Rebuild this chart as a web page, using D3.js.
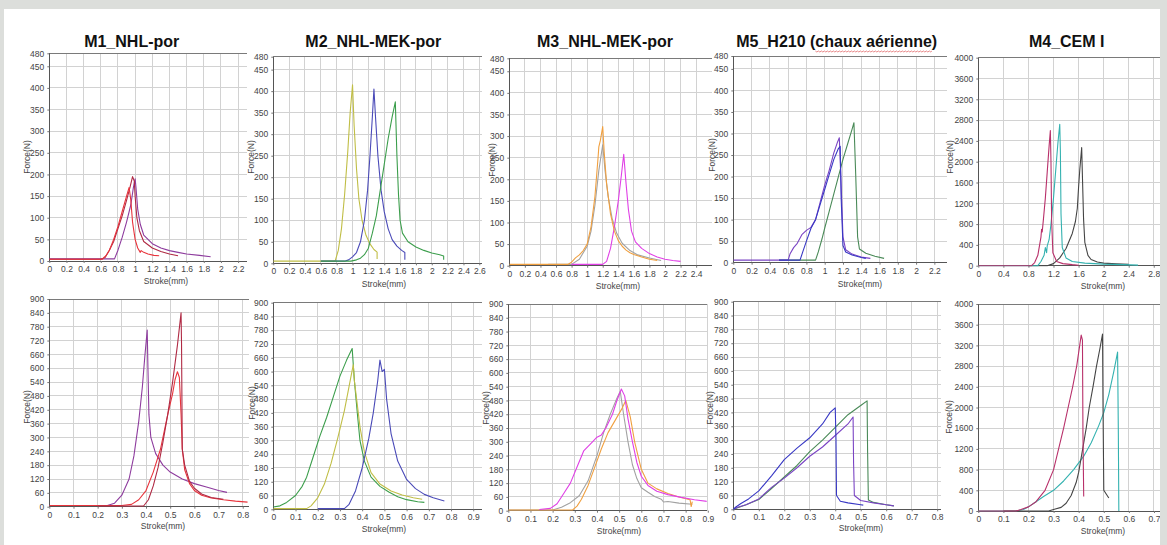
<!DOCTYPE html>
<html><head><meta charset="utf-8">
<script src="https://cdn.jsdelivr.net/npm/d3@7"></script>
<style>
html,body{margin:0;padding:0;background:#dcdedb;}
svg{display:block;font-family:"Liberation Sans",Arial,sans-serif;}
</style>
</head><body>
<svg id="chart" width="1167" height="545"></svg>
<script>
// ---------- DATA (stroke mm, force N) ----------
const titles = ["M1_NHL-por", "M2_NHL-MEK-por", "M3_NHL-MEK-por", "M5_H210 (chaux aérienne)", "M4_CEM I"];

const yTicksLimeTop = [0, 50, 100, 150, 200, 250, 300, 350, 400, 450, 480];
const yTicksCement = [0, 400, 800, 1200, 1600, 2000, 2400, 2800, 3200, 3600, 4000];
const yTicksLimeBottom = [0, 60, 120, 180, 240, 300, 360, 420, 480, 540, 600, 660, 720, 780, 840, 900];

const xTicksM1Top = [0, 0.2, 0.4, 0.6, 0.8, 1, 1.2, 1.4, 1.6, 1.8, 2, 2.2];
const xTicksM2Top = [0, 0.2, 0.4, 0.6, 0.8, 1, 1.2, 1.4, 1.6, 1.8, 2, 2.2, 2.4, 2.6];
const xTicksM3Top = [0, 0.2, 0.4, 0.6, 0.8, 1, 1.2, 1.4, 1.6, 1.8, 2, 2.2, 2.4];
const xTicksM5Top = [0, 0.2, 0.4, 0.6, 0.8, 1, 1.2, 1.4, 1.6, 1.8, 2, 2.2];
const xTicksM4Top = [0, 0.4, 0.8, 1.2, 1.6, 2, 2.4, 2.8];
const xTicksM1Bot = [0, 0.1, 0.2, 0.3, 0.4, 0.5, 0.6, 0.7, 0.8];
const xTicksM2Bot = [0, 0.1, 0.2, 0.3, 0.4, 0.5, 0.6, 0.7, 0.8, 0.9];
const xTicksM3Bot = [0, 0.1, 0.2, 0.3, 0.4, 0.5, 0.6, 0.7, 0.8, 0.9];
const xTicksM5Bot = [0, 0.1, 0.2, 0.3, 0.4, 0.5, 0.6, 0.7, 0.8];
const xTicksM4Bot = [0, 0.1, 0.2, 0.3, 0.4, 0.5, 0.6, 0.7];

// M1 top
const m1TopRed = [[0,4],[0.3,4],[0.62,4],[0.64,9],[0.66,12],[0.7,25],[0.75,50],[0.8,80],[0.85,115],[0.9,150],[0.93,170],[0.95,140],[0.97,90],[1.0,50],[1.03,30],[1.06,20],[1.07,24],[1.1,20],[1.15,16],[1.22,13],[1.28,12]];
const m1TopDark = [[0,4],[0.6,4],[0.65,8],[0.7,25],[0.75,45],[0.8,75],[0.85,105],[0.9,140],[0.94,170],[0.97,195],[0.99,185],[1.0,150],[1.02,100],[1.05,70],[1.1,45],[1.2,30],[1.3,22],[1.4,16],[1.5,12]];
const m1TopPurple = [[0,5],[0.5,5],[0.76,5],[0.8,25],[0.85,55],[0.9,90],[0.95,130],[0.98,170],[1.0,190],[1.01,170],[1.03,120],[1.06,85],[1.1,60],[1.2,40],[1.3,30],[1.4,24],[1.5,20],[1.6,16],[1.75,13],[1.88,10]];
// M2 top
const m2TopYellow = [[0,5],[0.5,5],[0.78,5],[0.82,30],[0.86,80],[0.9,160],[0.94,260],[0.97,350],[1.0,415],[1.02,320],[1.05,220],[1.08,150],[1.12,100],[1.17,65],[1.22,45],[1.27,32],[1.31,26],[1.31,10]];
const m2TopBlue = [[0.6,5],[0.9,5],[0.95,8],[1.0,15],[1.05,25],[1.1,50],[1.15,100],[1.19,170],[1.22,250],[1.25,340],[1.27,405],[1.29,340],[1.32,250],[1.36,170],[1.4,120],[1.45,80],[1.5,55],[1.56,40],[1.62,30],[1.66,25],[1.66,8]];
const m2TopGreen = [[0.6,5],[0.98,5],[1.05,8],[1.1,12],[1.15,20],[1.2,35],[1.25,70],[1.3,110],[1.35,170],[1.4,230],[1.45,290],[1.5,340],[1.54,375],[1.56,250],[1.58,160],[1.6,100],[1.63,70],[1.7,50],[1.8,38],[1.9,30],[2.0,24],[2.1,20],[2.15,17],[2.15,8]];
// M3 top
const m3TopOrange = [[0,3],[0.75,3],[0.8,8],[0.85,18],[0.9,25],[0.95,35],[1.0,50],[1.05,90],[1.1,160],[1.14,250],[1.15,275],[1.17,290],[1.2,322],[1.22,260],[1.25,190],[1.3,120],[1.35,80],[1.4,58],[1.45,45],[1.5,36],[1.55,30],[1.6,26],[1.7,20],[1.8,15],[1.9,12]];
const m3TopGray = [[0.5,3],[0.8,3],[0.9,15],[1.0,45],[1.05,80],[1.1,140],[1.15,220],[1.2,280],[1.23,220],[1.27,160],[1.32,110],[1.38,75],[1.45,52],[1.55,35],[1.65,25],[1.8,18],[1.95,12]];
const m3TopMagenta = [[0.8,3],[1.2,3],[1.25,10],[1.3,40],[1.35,90],[1.4,150],[1.44,210],[1.47,258],[1.5,190],[1.53,130],[1.57,80],[1.62,55],[1.7,40],[1.8,28],[1.9,20],[2.0,15],[2.1,12],[2.2,10]];
// M5 top
const m5TopPurple = [[0,6],[0.6,6],[0.62,20],[0.66,35],[0.7,45],[0.75,65],[0.8,75],[0.85,82],[0.9,100],[0.95,140],[1.0,180],[1.05,215],[1.1,255],[1.14,280],[1.16,290],[1.18,180],[1.2,60],[1.23,30],[1.3,20],[1.4,13],[1.5,10]];
const m5TopBlue = [[0.5,6],[0.73,6],[0.76,25],[0.8,50],[0.85,80],[0.9,100],[0.95,135],[1.0,170],[1.05,205],[1.1,240],[1.15,265],[1.17,270],[1.18,150],[1.2,40],[1.23,25],[1.3,18],[1.4,12],[1.45,10]];
const m5TopGreen = [[0.5,6],[0.9,6],[0.93,25],[0.97,55],[1.0,80],[1.05,120],[1.1,160],[1.15,200],[1.2,240],[1.25,275],[1.3,310],[1.32,325],[1.34,200],[1.36,60],[1.38,32],[1.45,22],[1.55,15],[1.65,10]];
// M4 top
const m4TopCrimson = [[0,0],[0.85,0],[0.9,60],[0.95,200],[1.0,550],[1.01,700],[1.02,650],[1.04,900],[1.07,1300],[1.1,1800],[1.13,2300],[1.15,2600],[1.16,2000],[1.17,900],[1.19,250],[1.25,80],[1.35,40],[1.5,20],[1.6,10]];
const m4TopTeal = [[0,0],[0.95,0],[1.0,80],[1.05,200],[1.07,350],[1.09,250],[1.1,380],[1.13,500],[1.16,800],[1.2,1300],[1.24,1900],[1.27,2350],[1.3,2720],[1.31,2200],[1.32,1000],[1.34,350],[1.4,150],[1.5,80],[1.7,50],[2.0,30],[2.3,20],[2.55,12]];
const m4TopGray = [[0.8,0],[1.1,0],[1.2,40],[1.3,150],[1.4,330],[1.5,620],[1.55,850],[1.58,1100],[1.6,1500],[1.62,1850],[1.65,2270],[1.66,1800],[1.68,900],[1.7,450],[1.75,200],[1.8,120],[1.9,70],[2.0,50],[2.2,35],[2.4,25]];
// M1 bottom
const m1BotPurple = [[0,5],[0.24,5],[0.27,15],[0.3,50],[0.33,120],[0.35,220],[0.37,370],[0.385,520],[0.395,650],[0.405,765],[0.408,600],[0.412,400],[0.42,300],[0.44,230],[0.47,180],[0.5,150],[0.55,120],[0.6,100],[0.65,85],[0.7,70],[0.735,62]];
const m1BotRed = [[0,5],[0.3,5],[0.34,10],[0.37,30],[0.4,70],[0.43,150],[0.46,250],[0.49,400],[0.51,490],[0.52,550],[0.53,585],[0.538,560],[0.545,400],[0.55,250],[0.56,160],[0.58,100],[0.6,70],[0.63,50],[0.67,38],[0.72,30],[0.77,24],[0.82,20]];
const m1BotDark = [[0.2,3],[0.39,3],[0.41,30],[0.43,90],[0.45,170],[0.47,280],[0.49,400],[0.51,540],[0.53,700],[0.545,840],[0.547,700],[0.549,400],[0.55,250],[0.56,180],[0.58,110],[0.6,80],[0.63,55],[0.67,40],[0.72,32]];
// M2 bottom
const m2BotGreen = [[0,10],[0.03,15],[0.06,30],[0.1,60],[0.13,100],[0.15,140],[0.18,230],[0.21,320],[0.24,400],[0.27,490],[0.3,580],[0.33,650],[0.355,700],[0.365,560],[0.38,400],[0.39,300],[0.41,210],[0.44,140],[0.48,100],[0.52,75],[0.56,55],[0.6,42],[0.65,33],[0.68,30]];
const m2BotYellow = [[0,3],[0.15,3],[0.17,15],[0.2,50],[0.23,110],[0.26,200],[0.29,310],[0.32,430],[0.34,530],[0.36,630],[0.365,560],[0.375,480],[0.39,360],[0.41,250],[0.44,160],[0.48,110],[0.53,80],[0.58,62],[0.63,50],[0.67,44]];
const m2BotBlue = [[0.2,3],[0.32,3],[0.34,20],[0.37,80],[0.4,180],[0.43,310],[0.45,420],[0.47,560],[0.48,650],[0.49,600],[0.5,610],[0.51,480],[0.53,330],[0.56,210],[0.6,130],[0.64,90],[0.68,65],[0.72,50],[0.77,36]];
// M3 bottom
const m3BotMagenta = [[0.14,5],[0.19,10],[0.22,30],[0.25,75],[0.28,120],[0.31,190],[0.34,260],[0.37,290],[0.4,320],[0.42,330],[0.44,360],[0.47,420],[0.49,480],[0.51,530],[0.525,500],[0.54,400],[0.56,300],[0.58,210],[0.6,150],[0.63,110],[0.67,85],[0.72,70],[0.78,58],[0.84,48],[0.9,40]];
const m3BotGray = [[0,3],[0.2,3],[0.24,15],[0.28,35],[0.32,65],[0.36,130],[0.4,240],[0.43,340],[0.46,420],[0.49,490],[0.505,520],[0.52,420],[0.54,300],[0.56,200],[0.58,140],[0.6,100],[0.63,80],[0.66,62],[0.69,50],[0.7,38],[0.72,40],[0.77,33],[0.83,28]];
const m3BotOrange = [[0,3],[0.29,3],[0.31,20],[0.33,50],[0.36,110],[0.39,190],[0.42,270],[0.45,340],[0.48,390],[0.51,440],[0.53,480],[0.55,410],[0.57,300],[0.6,180],[0.63,120],[0.67,95],[0.72,75],[0.77,60],[0.82,48],[0.825,18],[0.83,40]];
// M5 bottom
const m5BotBlue = [[0,0],[0.01,10],[0.03,25],[0.06,45],[0.1,80],[0.15,145],[0.2,215],[0.25,265],[0.3,310],[0.35,370],[0.38,420],[0.4,440],[0.403,300],[0.405,60],[0.42,35],[0.45,28],[0.5,20],[0.51,18]];
const m5BotPurple = [[0,0],[0.02,10],[0.05,20],[0.1,45],[0.15,95],[0.2,135],[0.25,180],[0.3,230],[0.35,270],[0.4,320],[0.45,370],[0.47,400],[0.472,200],[0.475,60],[0.5,38],[0.55,28],[0.6,20],[0.63,15]];
const m5BotGreen = [[0,0],[0.02,8],[0.05,20],[0.1,42],[0.15,90],[0.2,140],[0.25,190],[0.3,250],[0.35,300],[0.4,355],[0.45,410],[0.5,450],[0.525,470],[0.527,250],[0.53,40],[0.55,30],[0.6,20],[0.63,15]];
// M4 bottom
const m4BotCrimson = [[0,0],[0.15,0],[0.17,30],[0.2,80],[0.23,180],[0.266,400],[0.3,800],[0.32,1200],[0.34,1600],[0.358,2000],[0.376,2400],[0.392,2800],[0.41,3400],[0.415,3300],[0.417,1500],[0.42,280]];
const m4BotGray = [[0.1,0],[0.28,0],[0.3,30],[0.33,70],[0.35,150],[0.37,300],[0.39,550],[0.4,750],[0.416,1200],[0.43,1600],[0.442,2000],[0.457,2400],[0.471,2800],[0.485,3150],[0.495,3420],[0.497,2000],[0.5,400],[0.52,250]];
const m4BotTeal = [[0,0],[0.15,0],[0.18,30],[0.2,80],[0.23,180],[0.26,280],[0.3,400],[0.34,580],[0.38,800],[0.42,1060],[0.45,1320],[0.48,1650],[0.5,1900],[0.52,2250],[0.54,2700],[0.555,3070],[0.558,1500],[0.56,0]];

// ---------- LAYOUT ----------
const C = {red:"#e8343c", dark:"#b02a44", purple:"#8e3c9e", yellow:"#c0be46", blue:"#4a4ab8", green:"#3c9e4c",
           orange:"#f0a040", gray:"#a2a2a2", magenta:"#e040e6", m5purple:"#7a44c4", m5blue:"#3838c4", m5green:"#4a8a58",
           crimson:"#b8306a", teal:"#34b2b0", dgray:"#454545"};

const panels = [
  {title:titles[0], box:{l:49.3,t:53.3,r:246.7,b:261}, xMax:2.3, yMax:480, xTicks:xTicksM1Top, yTicks:yTicksLimeTop,
   series:[[m1TopPurple,C.purple],[m1TopDark,C.dark],[m1TopRed,C.red]], force:[27.7,157], stroke:[166,282], titleAt:[131.7,43]},
  {title:titles[1], box:{l:273.3,t:56.7,r:481.7,b:263.3}, xMax:2.63, yMax:480, xTicks:xTicksM2Top, yTicks:yTicksLimeTop,
   series:[[m2TopYellow,C.yellow],[m2TopBlue,C.blue],[m2TopGreen,C.green]], force:[251.7,157], stroke:[384,285], titleAt:[373.3,43]},
  {title:titles[2], box:{l:509.3,t:58.3,r:711.7,b:265.7}, xMax:2.6, yMax:480, xTicks:xTicksM3Top, yTicks:yTicksLimeTop,
   series:[[m3TopGray,C.gray],[m3TopMagenta,C.magenta],[m3TopOrange,C.orange]], force:[493,160], stroke:[618,287], titleAt:[605,43]},
  {title:titles[3], box:{l:733.3,t:56,r:946.7,b:262.7}, xMax:2.335, yMax:480, xTicks:xTicksM5Top, yTicks:yTicksLimeTop,
   series:[[m5TopGreen,C.m5green],[m5TopPurple,C.m5purple],[m5TopBlue,C.m5blue]], force:[712.7,155], stroke:[860,285], titleAt:[836.7,43], underline:"chaux aérienne"},
  {title:titles[4], box:{l:978.3,t:57.7,r:1160,b:265.7}, xMax:2.9, yMax:4000, xTicks:xTicksM4Top, yTicks:yTicksCement,
   series:[[m4TopGray,C.dgray],[m4TopTeal,C.teal],[m4TopCrimson,C.crimson]], force:[951,157], stroke:[1103,287], titleAt:[1066.7,43]},
  {box:{l:49.3,t:299,r:249,b:506.7}, xMax:0.826, yMax:900, xTicks:xTicksM1Bot, yTicks:yTicksLimeBottom,
   series:[[m1BotPurple,C.purple],[m1BotRed,C.red],[m1BotDark,C.dark]], force:[28,407], stroke:[163,527]},
  {box:{l:273.3,t:302.7,r:481.7,b:509.3}, xMax:0.938, yMax:900, xTicks:xTicksM2Bot, yTicks:yTicksLimeBottom,
   series:[[m2BotGreen,C.green],[m2BotYellow,C.yellow],[m2BotBlue,C.blue]], force:[253,403], stroke:[384,530]},
  {box:{l:508.3,t:304,r:706.7,b:510.7}, xMax:0.895, yMax:900, xTicks:xTicksM3Bot, yTicks:yTicksLimeBottom,
   series:[[m3BotGray,C.gray],[m3BotOrange,C.orange],[m3BotMagenta,C.magenta]], force:[487,408], stroke:[619,532]},
  {box:{l:733.3,t:301.7,r:941,b:509.3}, xMax:0.815, yMax:900, xTicks:xTicksM5Bot, yTicks:yTicksLimeBottom,
   series:[[m5BotGreen,C.m5green],[m5BotPurple,C.m5purple],[m5BotBlue,C.m5blue]], force:[710.7,408], stroke:[861,529]},
  {box:{l:978.3,t:304,r:1160,b:511}, xMax:0.724, yMax:4000, xTicks:xTicksM4Bot, yTicks:yTicksCement,
   series:[[m4BotTeal,C.teal],[m4BotGray,C.dgray],[m4BotCrimson,C.crimson]], force:[950,417], stroke:[1103,532]}
];

// ---------- DRAW ----------
const svg = d3.select("#chart");
svg.append("rect").attr("x",0).attr("y",0).attr("width",1167).attr("height",545).attr("fill","#dcdedb");
svg.append("rect").attr("x",4).attr("y",9).attr("width",1156).attr("height",536).attr("fill","#ffffff");

const defs = svg.append("defs");
const fmt = d => String(+d.toFixed(2));

panels.forEach((p, i) => {
  const {l,t,r,b} = p.box;
  const x = d3.scaleLinear().domain([0, p.xMax]).range([l, r]);
  const y = d3.scaleLinear().domain([0, p.yMax]).range([b, t]);
  const g = svg.append("g");

  defs.append("clipPath").attr("id","clip"+i)
    .append("rect").attr("x",l).attr("y",t-1).attr("width",r-l).attr("height",b-t+2);

  // grid
  const grid = g.append("g").attr("stroke","#d2d2d2").attr("stroke-width",1).attr("shape-rendering","crispEdges");
  grid.selectAll("line.v").data(p.xTicks.filter(v=>v>0)).join("line")
    .attr("x1",d=>x(d)).attr("x2",d=>x(d)).attr("y1",t).attr("y2",b);
  grid.selectAll("line.h").data(p.yTicks.filter(v=>v>0 && v<p.yMax)).join("line")
    .attr("x1",l).attr("x2",r).attr("y1",d=>y(d)).attr("y2",d=>y(d));

  // frame: top border, left and bottom axes
  const frame = g.append("g").attr("shape-rendering","crispEdges");
  frame.append("line").attr("x1",l).attr("x2",r).attr("y1",y(p.yMax)).attr("y2",y(p.yMax)).attr("stroke","#7a7a7a");
  frame.append("line").attr("x1",l).attr("x2",l).attr("y1",t).attr("y2",b).attr("stroke","#555");
  frame.append("line").attr("x1",l).attr("x2",r).attr("y1",b).attr("y2",b).attr("stroke","#555");

  // y ticks
  const yAxis = d3.axisLeft(y).tickValues(p.yTicks).tickSize(2).tickPadding(3).tickFormat(fmt);
  const ya = g.append("g").attr("transform",`translate(${l},0)`).call(yAxis);
  ya.select(".domain").remove();
  ya.selectAll("line").attr("stroke","#777");
  ya.selectAll("text").attr("font-size","8.5px").attr("fill","#444").attr("font-family","Liberation Sans, Arial, sans-serif");

  // x ticks
  const xAxis = d3.axisBottom(x).tickValues(p.xTicks).tickSize(2).tickPadding(3).tickFormat(fmt);
  const xa = g.append("g").attr("transform",`translate(0,${b})`).call(xAxis);
  xa.select(".domain").remove();
  xa.selectAll("line").attr("stroke","#777");
  xa.selectAll("text").attr("font-size","8.5px").attr("fill","#444").attr("font-family","Liberation Sans, Arial, sans-serif");

  // curves
  const line = d3.line().x(d=>x(d[0])).y(d=>y(d[1]));
  const cg = g.append("g").attr("clip-path",`url(#clip${i})`);
  p.series.forEach(([data,col]) => {
    cg.append("path").datum(data).attr("d",line).attr("fill","none")
      .attr("stroke",col).attr("stroke-width",1.1).attr("stroke-linejoin","round");
  });

  // axis titles
  g.append("text").attr("transform",`translate(${p.force[0]},${p.force[1]}) rotate(-90)`)
    .attr("text-anchor","middle").attr("dominant-baseline","middle")
    .attr("font-size","8.5px").attr("fill","#444").text("Force(N)");
  g.append("text").attr("x",p.stroke[0]).attr("y",p.stroke[1])
    .attr("text-anchor","middle").attr("dominant-baseline","middle")
    .attr("font-size","8.5px").attr("fill","#444").text("Stroke(mm)");

  // panel title
  if (p.title) {
    const tt = g.append("text").attr("x",p.titleAt[0]).attr("y",p.titleAt[1])
      .attr("text-anchor","middle").attr("dominant-baseline","middle")
      .attr("font-size","16px").attr("font-weight","bold").attr("fill","#111").text(p.title);
    if (p.underline) {
      const node = tt.node();
      const idx = p.title.indexOf(p.underline);
      const s = node.getStartPositionOfChar(idx).x;
      const e = node.getEndPositionOfChar(idx + p.underline.length - 1).x;
      const yy = p.titleAt[1] + 8;
      let dpath = `M${s},${yy}`;
      for (let xx = s, k = 0; xx < e; xx += 1.5, k++) dpath += `L${Math.min(xx+1.5,e)},${yy + (k%2 ? 0 : 1)}`;
      g.append("path").attr("d",dpath).attr("fill","none").attr("stroke","#e26a6a").attr("stroke-width",0.8);
    }
  }
});

// right border strip overlay
svg.append("rect").attr("x",1160).attr("y",0).attr("width",7).attr("height",545).attr("fill","#dcdedb");
</script>
</body></html>
